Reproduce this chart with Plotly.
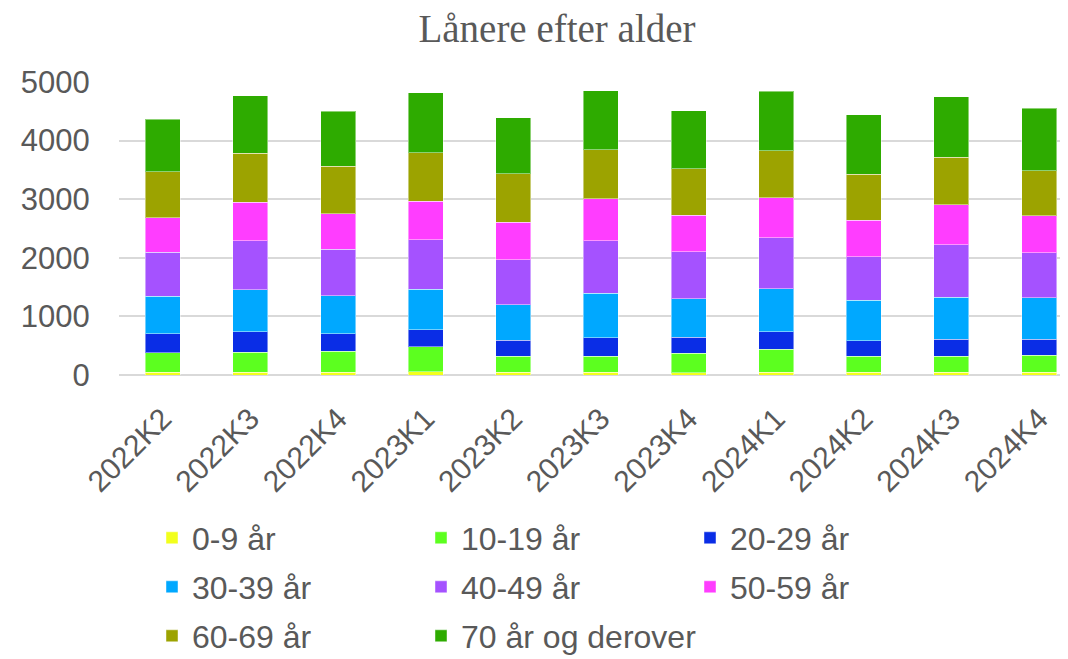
import plotly.graph_objects as go

quarters = ["2022K2", "2022K3", "2022K4", "2023K1", "2023K2", "2023K3",
            "2023K4", "2024K1", "2024K2", "2024K3", "2024K4"]

age_0_9 = [50, 50, 50, 55, 45, 45, 35, 50, 45, 50, 50]
age_10_19 = [330, 340, 358, 426, 273, 279, 335, 386, 279, 267, 285]
age_20_29 = [324, 347, 295, 295, 272, 312, 273, 302, 261, 290, 272]
age_30_39 = [642, 715, 653, 687, 608, 756, 658, 738, 693, 721, 709]
age_40_49 = [750, 835, 790, 841, 773, 903, 801, 863, 738, 898, 774]
age_50_59 = [591, 664, 608, 659, 636, 716, 620, 688, 625, 682, 630]
age_60_69 = [784, 830, 812, 829, 829, 835, 801, 801, 784, 806, 767]
age_70_plus = [891, 983, 937, 1023, 955, 1005, 988, 1016, 1017, 1034, 1067]

series = [
    ("0-9 år", age_0_9, "#f2ff1c", "legend"),
    ("10-19 år", age_10_19, "#5cff1f", "legend"),
    ("20-29 år", age_20_29, "#0a2de6", "legend"),
    ("30-39 år", age_30_39, "#00a8ff", "legend2"),
    ("40-49 år", age_40_49, "#a552ff", "legend2"),
    ("50-59 år", age_50_59, "#ff3dff", "legend2"),
    ("60-69 år", age_60_69, "#9ca300", "legend3"),
    ("70 år og derover", age_70_plus, "#2eab00", "legend4"),
]

fig = go.Figure()
for name, vals, color, leg in series:
    fig.add_trace(go.Bar(
        x=quarters, y=vals, name=name, legend=leg,
        marker=dict(color=color, line=dict(color="rgba(255,255,255,0.45)", width=1)),
        width=0.4,
    ))

W, H = 1060, 651
GRAY = "#595959"
COL_STEP = 269
LEG_X = 144
legend_common = dict(
    orientation="h", xref="container", yref="container",
    x=LEG_X / W, xanchor="left", yanchor="middle",
    font=dict(family="Liberation Sans, Arial", size=32, color=GRAY),
    entrywidth=COL_STEP - 45, entrywidthmode="pixels", traceorder="normal",
    bgcolor="rgba(0,0,0,0)", itemclick=False,
)
legend_last = dict(legend_common)
legend_last.pop("entrywidth")
legend_last.pop("entrywidthmode")
legend_last["x"] = (LEG_X + COL_STEP) / W

fig.update_layout(
    barmode="stack",
    width=W, height=H,
    paper_bgcolor="white", plot_bgcolor="white",
    margin=dict(l=111, r=0, t=74, b=284, autoexpand=False),
    title=dict(text="Lånere efter alder", xref="container", x=549 / W, xanchor="center",
               yref="container", y=1 - 20 / H, yanchor="middle",
               font=dict(family="Liberation Serif, Times New Roman", size=39, color=GRAY)),
    xaxis=dict(range=[-0.5, 10.33], tickangle=-45, showgrid=False, showline=False,
               tickfont=dict(family="Liberation Sans, Arial", size=30, color=GRAY),
               ticks="outside", ticklen=13, tickcolor="rgba(0,0,0,0)"),
    yaxis=dict(range=[0, 5000], dtick=1000, showgrid=True, gridcolor="#d9d9d9", gridwidth=2,
               zeroline=True, zerolinecolor="#d9d9d9", zerolinewidth=2,
               tickfont=dict(family="Liberation Sans, Arial", size=31, color=GRAY),
               ticks="outside", ticklen=22, tickcolor="rgba(0,0,0,0)"),
    legend=dict(legend_common, y=1 - 530 / H),
    legend2=dict(legend_common, y=1 - 579 / H),
    legend3=dict(legend_common, y=1 - 628 / H),
    legend4=dict(legend_last, y=1 - 628 / H),
    showlegend=True,
)

fig.write_html("out.html")
